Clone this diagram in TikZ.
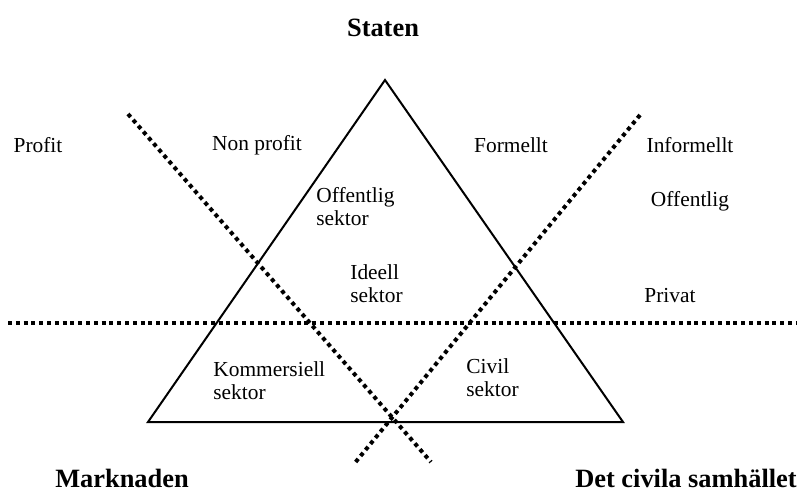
\documentclass[tikz,border=0pt]{standalone}
\usepackage{fontspec}
\setmainfont{Liberation Serif}

\tikzset{
  sektorline/.style={line width=1pt, line join=miter},
  dotline/.style={line width=2pt, dash pattern=on 2pt off 1.9pt},
  lbl/.style={font=\fontsize{10.7}{11.5}\selectfont, inner sep=0pt},
  hlbl/.style={font=\fontsize{13.2}{15}\selectfont\bfseries, inner sep=0pt}
}

\begin{document}
\begin{tikzpicture}[x=0.5pt, y=-0.5pt]

\useasboundingbox (0,0) rectangle (797,493);

% corners
\coordinate (top) at (385,80);
\coordinate (left) at (148,422);
\coordinate (right) at (623,422);

% triangle
\draw[sektorline] (top) -- (right) -- (left) -- cycle;

% dotted lines
\coordinate (d1a) at (128,114);
\coordinate (d1b) at (431,462);
\coordinate (d2a) at (640,115);
\coordinate (d2b) at (354,464);
\coordinate (ha) at (8,323);
\coordinate (hb) at (797,323);
\draw[dotline] (d1a) -- (d1b);
\draw[dotline] (d2a) -- (d2b);
\draw[dotline] (ha) -- (hb);

% labels
\node[hlbl] (staten) at (383,28) {Staten};
\node[hlbl] (marknaden) at (122,478) {Marknaden};
\node[hlbl] (civsam) at (686,478) {Det civila samhället};

\node[lbl] (profit) at (38,145) {Profit};
\node[lbl] (nonprofit) at (257,145) {Non profit};
\node[lbl] (formellt) at (511,145) {Formellt};
\node[lbl] (informellt) at (690,145) {Informellt};
\node[lbl] (offentlig) at (690,201) {Offentlig};
\node[lbl] (privat) at (670,296) {Privat};

\node[lbl, align=left, anchor=west] (offsek) at (316,207) {Offentlig\\sektor};
\node[lbl, align=left, anchor=west] (idsek) at (350,284) {Ideell\\sektor};
\node[lbl, align=left, anchor=west] (komsek) at (213,381) {Kommersiell\\sektor};
\node[lbl, align=left, anchor=west] (civsek) at (466,378) {Civil\\sektor};

\end{tikzpicture}
\end{document}
